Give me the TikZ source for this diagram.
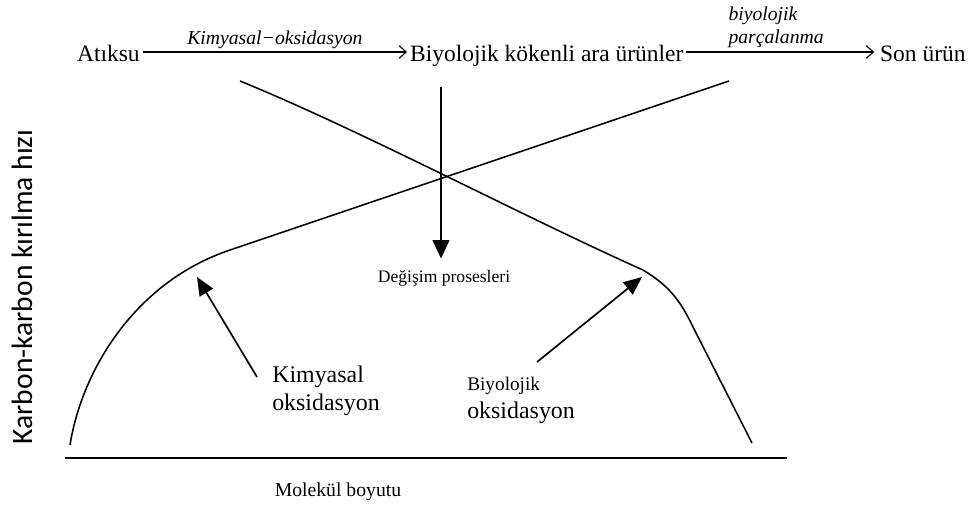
\documentclass[tikz,border=0pt]{standalone}
\usepackage{fontspec}
\setmainfont{Liberation Serif}
\newfontfamily\axisfont{Carlito}
\usetikzlibrary{arrows.meta}

\begin{document}
\begin{tikzpicture}[
      x=0.025cm, y=-0.025cm,
      rowtext/.style={anchor=west, font=\fontsize{16.7}{19}\selectfont,
        inner xsep=2pt, inner ysep=0pt, text height=14pt, text depth=0pt},
      steplabel/.style={font=\fontsize{14}{16}\selectfont\itshape, inner sep=0pt},
      sidelabel/.style={anchor=north west, align=left, inner sep=0pt,
        font=\fontsize{17}{20}\selectfont},
      flow/.style={-{Straight Barb[length=5pt, width=9pt]}, line width=0.8pt},
      drop/.style={-{Triangle[length=13pt, width=12pt]}, line width=0.9pt},
      pointer/.style={-{Triangle[length=13pt, width=11pt]}, line width=1.2pt},
      curve/.style={line width=1.1pt, line join=round},
      axisline/.style={line width=1.2pt}
    ]
    \useasboundingbox (0,0) rectangle (968,524);

    % Top row: process chain
    \node[rowtext] (atiksu) at (74,52) {Atıksu};
    \node[rowtext] (araurun) at (407,52) {Biyolojik kökenli ara ürünler};
    \node[rowtext] (sonurun) at (877,52) {Son ürün};
    \draw[flow] (atiksu.east) -- (araurun.west)
      node[midway, above=2pt, steplabel] {Kimyasal−oksidasyon};
    \draw[flow, shorten >=2pt] (araurun.east) -- (sonurun.west)
      node[midway, above=3pt, xshift=-4pt, steplabel, align=left]
      {biyolojik\\parçalanma};

    % Rate curves
    \draw[curve] (70,445) .. controls (82,370) and (135,282) .. (230,250)
      -- (729,81);
    \draw[curve] (240,81) .. controls (360,130) and (520,215) .. (643,270)
      .. controls (668,285) and (680,300) .. (692,325) -- (752,443);

    % Change processes
    \coordinate (vtop) at (441,87);
    \node[font=\fontsize{12.5}{14}\selectfont, inner sep=0pt] (degisim)
      at (444,278) {Değişim prosesleri};
    \draw[drop, shorten >=8pt] (vtop) -- (vtop |- degisim.north);

    % Oxidation labels
    \node[sidelabel] (kimyasal) at (272,366) {Kimyasal\\oksidasyon};
    \node[sidelabel] (biyolojik) at (467,377)
      {{\fontsize{13.7}{16}\selectfont Biyolojik}\\oksidasyon};
    \coordinate (kimtail) at (257,377);
    \coordinate (kimtip) at (197,277);
    \coordinate (biytail) at (537,362);
    \coordinate (biytip) at (642,277);
    \draw[pointer] (kimtail) -- (kimtip);
    \draw[pointer] (biytail) -- (biytip);

    % Axes
    \draw[axisline] (65,458) -- (787,458);
    \node[rotate=90, font=\axisfont\fontsize{21}{24}\selectfont] (ylabel)
      at (22,287) {Karbon-karbon kırılma hızı};
    \node[font=\fontsize{14}{16}\selectfont] (xlabel) at (338,492)
      {Molekül boyutu};
  \end{tikzpicture}
\end{document}
